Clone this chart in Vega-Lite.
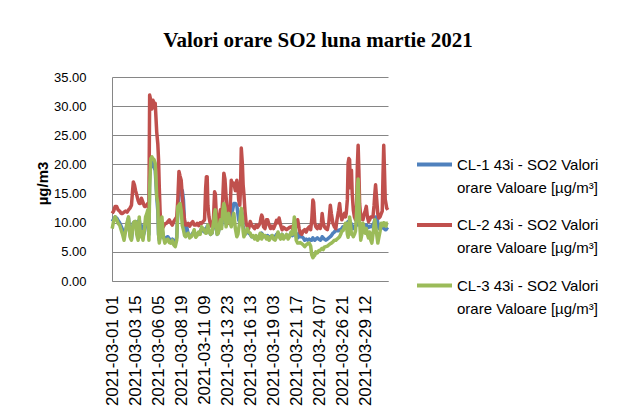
{
"$schema": "https://vega.github.io/schema/vega-lite/v6.json",
"width": 276, "height": 204,
"autosize": {"type": "none"},
"padding": {"left": 112, "top": 77, "right": 231, "bottom": 136},
"background": "white",
"title": {"text": "Valori orare SO2 luna martie 2021", "font": "Liberation Serif", "fontSize": 21, "fontWeight": "bold", "color": "black", "anchor": "middle", "dx": 68, "offset": 3, "baseline": "alphabetic"},
"config": {"view": {"stroke": null}},
"data": {"values": [
{"h":0,"CL-1":10.2,"CL-2":11.6,"CL-3":9.0},
{"h":4,"CL-1":10.6,"CL-2":12.0,"CL-3":10.3},
{"h":8,"CL-1":11.0,"CL-2":12.8,"CL-3":11.0},
{"h":12,"CL-1":10.8,"CL-2":12.8,"CL-3":10.5},
{"h":16,"CL-1":10.4,"CL-2":12.2,"CL-3":9.9},
{"h":20,"CL-1":10.0,"CL-2":12.0,"CL-3":9.6},
{"h":24,"CL-1":9.4,"CL-2":11.6,"CL-3":8.8},
{"h":28,"CL-1":8.8,"CL-2":11.6,"CL-3":8.0},
{"h":32,"CL-1":8.0,"CL-2":11.8,"CL-3":7.0},
{"h":36,"CL-1":8.6,"CL-2":12.0,"CL-3":8.5},
{"h":40,"CL-1":9.6,"CL-2":11.8,"CL-3":10.0},
{"h":44,"CL-1":10.8,"CL-2":12.2,"CL-3":11.0},
{"h":48,"CL-1":8.0,"CL-2":12.5,"CL-3":7.6},
{"h":52,"CL-1":7.2,"CL-2":13.0,"CL-3":7.0},
{"h":55,"CL-1":9.0,"CL-2":15.5,"CL-3":9.0},
{"h":57,"CL-1":10.0,"CL-2":17.0,"CL-3":9.9},
{"h":60,"CL-1":10.0,"CL-2":16.5,"CL-3":10.2},
{"h":63,"CL-1":10.2,"CL-2":15.5,"CL-3":10.2},
{"h":66,"CL-1":9.5,"CL-2":14.8,"CL-3":8.0},
{"h":70,"CL-1":9.9,"CL-2":13.8,"CL-3":7.0},
{"h":73,"CL-1":10.5,"CL-2":13.3,"CL-3":11.0},
{"h":76,"CL-1":9.0,"CL-2":13.3,"CL-3":7.6},
{"h":79,"CL-1":9.5,"CL-2":14.2,"CL-3":8.5},
{"h":83,"CL-1":7.6,"CL-2":13.5,"CL-3":7.0},
{"h":87,"CL-1":8.5,"CL-2":12.8,"CL-3":9.0},
{"h":90,"CL-1":10.0,"CL-2":12.8,"CL-3":11.0},
{"h":93,"CL-1":10.5,"CL-2":13.0,"CL-3":11.5},
{"h":96,"CL-1":11.2,"CL-2":13.3,"CL-3":12.2},
{"h":99,"CL-1":8.0,"CL-2":12.5,"CL-3":7.0},
{"h":101,"CL-1":18.0,"CL-2":31.9,"CL-3":16.0},
{"h":104,"CL-1":20.0,"CL-2":31.0,"CL-3":21.0},
{"h":107,"CL-1":20.5,"CL-2":29.5,"CL-3":21.3},
{"h":110,"CL-1":20.0,"CL-2":31.0,"CL-3":21.0},
{"h":113,"CL-1":19.5,"CL-2":30.5,"CL-3":20.8},
{"h":116,"CL-1":19.0,"CL-2":30.5,"CL-3":20.2},
{"h":120,"CL-1":14.5,"CL-2":25.6,"CL-3":14.5},
{"h":123,"CL-1":12.0,"CL-2":23.5,"CL-3":13.3},
{"h":125,"CL-1":8.0,"CL-2":20.8,"CL-3":8.0},
{"h":127,"CL-1":7.0,"CL-2":16.0,"CL-3":6.5},
{"h":129,"CL-1":7.5,"CL-2":12.2,"CL-3":7.5},
{"h":131,"CL-1":8.5,"CL-2":9.5,"CL-3":9.0},
{"h":134,"CL-1":9.0,"CL-2":9.0,"CL-3":11.0},
{"h":138,"CL-1":7.5,"CL-2":9.3,"CL-3":7.6},
{"h":142,"CL-1":7.2,"CL-2":9.8,"CL-3":6.5},
{"h":146,"CL-1":7.5,"CL-2":9.9,"CL-3":7.0},
{"h":150,"CL-1":7.6,"CL-2":10.2,"CL-3":7.2},
{"h":154,"CL-1":7.2,"CL-2":10.5,"CL-3":6.6},
{"h":158,"CL-1":7.0,"CL-2":10.0,"CL-3":6.5},
{"h":162,"CL-1":7.2,"CL-2":9.6,"CL-3":7.0},
{"h":166,"CL-1":6.8,"CL-2":10.2,"CL-3":6.2},
{"h":170,"CL-1":6.5,"CL-2":10.6,"CL-3":5.9},
{"h":174,"CL-1":7.5,"CL-2":11.0,"CL-3":7.0},
{"h":177,"CL-1":12.0,"CL-2":14.0,"CL-3":12.8},
{"h":180,"CL-1":14.5,"CL-2":18.8,"CL-3":13.0},
{"h":183,"CL-1":15.0,"CL-2":18.0,"CL-3":13.3},
{"h":186,"CL-1":15.6,"CL-2":17.3,"CL-3":12.0},
{"h":189,"CL-1":15.5,"CL-2":14.5,"CL-3":9.5},
{"h":192,"CL-1":14.0,"CL-2":12.2,"CL-3":8.8},
{"h":195,"CL-1":10.0,"CL-2":10.5,"CL-3":7.8},
{"h":198,"CL-1":8.5,"CL-2":9.6,"CL-3":7.6},
{"h":201,"CL-1":9.3,"CL-2":9.6,"CL-3":8.0},
{"h":205,"CL-1":8.0,"CL-2":9.9,"CL-3":8.2},
{"h":209,"CL-1":7.6,"CL-2":9.4,"CL-3":7.4},
{"h":213,"CL-1":7.8,"CL-2":9.9,"CL-3":7.6},
{"h":217,"CL-1":8.2,"CL-2":10.2,"CL-3":8.0},
{"h":221,"CL-1":8.4,"CL-2":9.6,"CL-3":8.8},
{"h":225,"CL-1":7.8,"CL-2":9.6,"CL-3":7.5},
{"h":229,"CL-1":8.0,"CL-2":9.9,"CL-3":7.8},
{"h":233,"CL-1":8.0,"CL-2":9.5,"CL-3":8.4},
{"h":237,"CL-1":8.4,"CL-2":10.0,"CL-3":8.0},
{"h":241,"CL-1":9.0,"CL-2":9.9,"CL-3":9.3},
{"h":245,"CL-1":8.6,"CL-2":10.2,"CL-3":9.0},
{"h":249,"CL-1":8.4,"CL-2":10.5,"CL-3":8.6},
{"h":252,"CL-1":9.0,"CL-2":16.0,"CL-3":8.2},
{"h":254,"CL-1":9.0,"CL-2":17.9,"CL-3":8.2},
{"h":256,"CL-1":9.4,"CL-2":17.9,"CL-3":9.0},
{"h":258,"CL-1":9.0,"CL-2":13.0,"CL-3":9.6},
{"h":261,"CL-1":8.6,"CL-2":11.0,"CL-3":8.6},
{"h":265,"CL-1":8.0,"CL-2":9.6,"CL-3":8.0},
{"h":269,"CL-1":8.2,"CL-2":9.3,"CL-3":8.2},
{"h":273,"CL-1":9.5,"CL-2":10.5,"CL-3":10.0},
{"h":276,"CL-1":10.5,"CL-2":15.3,"CL-3":11.5},
{"h":278,"CL-1":11.0,"CL-2":15.0,"CL-3":12.2},
{"h":281,"CL-1":9.0,"CL-2":11.0,"CL-3":9.0},
{"h":283,"CL-1":8.0,"CL-2":9.3,"CL-3":8.0},
{"h":286,"CL-1":8.3,"CL-2":9.8,"CL-3":8.2},
{"h":290,"CL-1":9.5,"CL-2":11.5,"CL-3":10.0},
{"h":292,"CL-1":10.0,"CL-2":12.2,"CL-3":10.5},
{"h":295,"CL-1":9.5,"CL-2":11.0,"CL-3":9.0},
{"h":298,"CL-1":11.0,"CL-2":14.0,"CL-3":12.0},
{"h":301,"CL-1":12.5,"CL-2":18.5,"CL-3":13.3},
{"h":304,"CL-1":12.0,"CL-2":17.5,"CL-3":12.5},
{"h":307,"CL-1":9.8,"CL-2":14.5,"CL-3":9.3},
{"h":311,"CL-1":10.0,"CL-2":11.0,"CL-3":10.5},
{"h":314,"CL-1":10.5,"CL-2":9.9,"CL-3":11.6},
{"h":318,"CL-1":10.0,"CL-2":12.5,"CL-3":9.9},
{"h":321,"CL-1":11.0,"CL-2":17.3,"CL-3":9.3},
{"h":324,"CL-1":12.0,"CL-2":16.5,"CL-3":10.5},
{"h":328,"CL-1":13.3,"CL-2":16.8,"CL-3":11.6},
{"h":332,"CL-1":13.3,"CL-2":15.5,"CL-3":9.0},
{"h":336,"CL-1":13.0,"CL-2":17.3,"CL-3":7.6},
{"h":339,"CL-1":11.5,"CL-2":16.0,"CL-3":8.0},
{"h":341,"CL-1":10.5,"CL-2":13.9,"CL-3":9.0},
{"h":344,"CL-1":10.0,"CL-2":13.0,"CL-3":10.0},
{"h":346,"CL-1":11.0,"CL-2":16.0,"CL-3":11.5},
{"h":348,"CL-1":12.0,"CL-2":22.8,"CL-3":12.5},
{"h":351,"CL-1":11.5,"CL-2":20.0,"CL-3":11.0},
{"h":353,"CL-1":9.5,"CL-2":16.5,"CL-3":8.5},
{"h":355,"CL-1":8.5,"CL-2":15.0,"CL-3":7.6},
{"h":358,"CL-1":8.0,"CL-2":12.0,"CL-3":8.0},
{"h":361,"CL-1":8.4,"CL-2":10.0,"CL-3":8.6},
{"h":364,"CL-1":8.6,"CL-2":9.3,"CL-3":9.0},
{"h":368,"CL-1":8.2,"CL-2":9.0,"CL-3":8.4},
{"h":372,"CL-1":8.0,"CL-2":10.2,"CL-3":8.2},
{"h":376,"CL-1":7.6,"CL-2":9.6,"CL-3":7.6},
{"h":380,"CL-1":7.6,"CL-2":9.3,"CL-3":7.8},
{"h":384,"CL-1":7.4,"CL-2":9.0,"CL-3":7.2},
{"h":388,"CL-1":7.6,"CL-2":9.6,"CL-3":7.8},
{"h":392,"CL-1":7.2,"CL-2":9.2,"CL-3":7.0},
{"h":396,"CL-1":7.6,"CL-2":9.6,"CL-3":7.4},
{"h":399,"CL-1":8.0,"CL-2":10.0,"CL-3":8.2},
{"h":401,"CL-1":8.0,"CL-2":10.8,"CL-3":7.6},
{"h":403,"CL-1":8.2,"CL-2":11.3,"CL-3":7.2},
{"h":405,"CL-1":8.0,"CL-2":11.0,"CL-3":8.0},
{"h":408,"CL-1":7.6,"CL-2":9.3,"CL-3":7.6},
{"h":412,"CL-1":7.8,"CL-2":9.0,"CL-3":7.8},
{"h":416,"CL-1":7.6,"CL-2":10.5,"CL-3":7.2},
{"h":419,"CL-1":7.8,"CL-2":10.5,"CL-3":7.6},
{"h":423,"CL-1":7.4,"CL-2":9.6,"CL-3":7.0},
{"h":427,"CL-1":7.6,"CL-2":9.0,"CL-3":7.4},
{"h":431,"CL-1":7.8,"CL-2":9.4,"CL-3":7.8},
{"h":435,"CL-1":7.4,"CL-2":9.0,"CL-3":7.2},
{"h":439,"CL-1":7.6,"CL-2":9.6,"CL-3":7.0},
{"h":443,"CL-1":8.0,"CL-2":10.4,"CL-3":7.6},
{"h":447,"CL-1":8.2,"CL-2":10.0,"CL-3":8.4},
{"h":450,"CL-1":7.8,"CL-2":10.8,"CL-3":7.6},
{"h":454,"CL-1":7.6,"CL-2":9.6,"CL-3":7.2},
{"h":458,"CL-1":8.0,"CL-2":8.8,"CL-3":8.0},
{"h":462,"CL-1":7.4,"CL-2":9.2,"CL-3":7.2},
{"h":466,"CL-1":7.6,"CL-2":9.0,"CL-3":7.6},
{"h":470,"CL-1":7.8,"CL-2":8.8,"CL-3":8.0},
{"h":474,"CL-1":7.6,"CL-2":9.0,"CL-3":7.2},
{"h":478,"CL-1":7.8,"CL-2":9.2,"CL-3":7.6},
{"h":482,"CL-1":8.2,"CL-2":9.3,"CL-3":8.4},
{"h":486,"CL-1":7.8,"CL-2":9.0,"CL-3":8.0},
{"h":489,"CL-1":9.0,"CL-2":9.6,"CL-3":9.5},
{"h":491,"CL-1":10.0,"CL-2":9.9,"CL-3":11.0},
{"h":493,"CL-1":9.0,"CL-2":9.6,"CL-3":10.0},
{"h":496,"CL-1":7.6,"CL-2":9.3,"CL-3":7.0},
{"h":500,"CL-1":7.4,"CL-2":10.5,"CL-3":6.5},
{"h":504,"CL-1":8.2,"CL-2":9.0,"CL-3":6.5},
{"h":507,"CL-1":7.6,"CL-2":8.2,"CL-3":6.6},
{"h":511,"CL-1":7.6,"CL-2":8.0,"CL-3":6.4},
{"h":515,"CL-1":7.4,"CL-2":8.6,"CL-3":6.2},
{"h":519,"CL-1":7.0,"CL-2":8.8,"CL-3":5.9},
{"h":523,"CL-1":7.2,"CL-2":8.4,"CL-3":6.2},
{"h":527,"CL-1":7.0,"CL-2":9.0,"CL-3":6.4},
{"h":531,"CL-1":7.2,"CL-2":9.3,"CL-3":6.5},
{"h":535,"CL-1":7.0,"CL-2":8.8,"CL-3":6.0},
{"h":538,"CL-1":7.0,"CL-2":10.5,"CL-3":4.5},
{"h":541,"CL-1":7.4,"CL-2":13.9,"CL-3":4.0},
{"h":543,"CL-1":7.2,"CL-2":13.5,"CL-3":4.2},
{"h":546,"CL-1":7.0,"CL-2":10.0,"CL-3":4.4},
{"h":549,"CL-1":7.2,"CL-2":9.3,"CL-3":5.0},
{"h":553,"CL-1":7.4,"CL-2":9.0,"CL-3":4.8},
{"h":557,"CL-1":7.2,"CL-2":9.5,"CL-3":5.2},
{"h":561,"CL-1":7.0,"CL-2":9.0,"CL-3":5.3},
{"h":564,"CL-1":7.2,"CL-2":10.0,"CL-3":5.5},
{"h":566,"CL-1":7.6,"CL-2":11.6,"CL-3":5.6},
{"h":569,"CL-1":7.4,"CL-2":10.0,"CL-3":5.4},
{"h":572,"CL-1":7.2,"CL-2":9.3,"CL-3":5.8},
{"h":576,"CL-1":7.0,"CL-2":9.0,"CL-3":5.9},
{"h":580,"CL-1":7.2,"CL-2":8.8,"CL-3":6.0},
{"h":584,"CL-1":7.4,"CL-2":10.0,"CL-3":6.2},
{"h":588,"CL-1":7.6,"CL-2":13.0,"CL-3":6.4},
{"h":591,"CL-1":7.8,"CL-2":11.5,"CL-3":6.5},
{"h":595,"CL-1":8.2,"CL-2":9.9,"CL-3":6.7},
{"h":599,"CL-1":8.4,"CL-2":9.3,"CL-3":7.0},
{"h":603,"CL-1":8.8,"CL-2":9.0,"CL-3":7.0},
{"h":606,"CL-1":8.6,"CL-2":10.5,"CL-3":7.2},
{"h":610,"CL-1":8.6,"CL-2":12.0,"CL-3":7.4},
{"h":613,"CL-1":8.8,"CL-2":13.3,"CL-3":7.6},
{"h":616,"CL-1":8.8,"CL-2":11.5,"CL-3":8.0},
{"h":619,"CL-1":9.0,"CL-2":10.5,"CL-3":8.6},
{"h":622,"CL-1":9.3,"CL-2":11.0,"CL-3":8.6},
{"h":626,"CL-1":9.3,"CL-2":11.6,"CL-3":9.3},
{"h":629,"CL-1":9.4,"CL-2":11.0,"CL-3":9.9},
{"h":631,"CL-1":9.5,"CL-2":11.6,"CL-3":9.9},
{"h":634,"CL-1":10.0,"CL-2":14.0,"CL-3":8.0},
{"h":636,"CL-1":10.2,"CL-2":20.2,"CL-3":7.5},
{"h":638,"CL-1":10.0,"CL-2":21.0,"CL-3":9.0},
{"h":640,"CL-1":10.4,"CL-2":20.8,"CL-3":11.0},
{"h":642,"CL-1":10.0,"CL-2":16.0,"CL-3":10.0},
{"h":645,"CL-1":9.8,"CL-2":19.0,"CL-3":8.0},
{"h":647,"CL-1":9.5,"CL-2":15.0,"CL-3":8.0},
{"h":650,"CL-1":9.0,"CL-2":12.2,"CL-3":7.6},
{"h":653,"CL-1":9.2,"CL-2":11.0,"CL-3":8.0},
{"h":656,"CL-1":9.4,"CL-2":10.5,"CL-3":8.6},
{"h":659,"CL-1":9.6,"CL-2":13.0,"CL-3":12.0},
{"h":661,"CL-1":9.8,"CL-2":20.0,"CL-3":16.0},
{"h":663,"CL-1":10.0,"CL-2":23.3,"CL-3":17.5},
{"h":665,"CL-1":9.8,"CL-2":19.0,"CL-3":14.0},
{"h":667,"CL-1":9.6,"CL-2":13.3,"CL-3":10.0},
{"h":670,"CL-1":9.4,"CL-2":11.0,"CL-3":7.0},
{"h":673,"CL-1":9.2,"CL-2":10.6,"CL-3":8.0},
{"h":676,"CL-1":9.0,"CL-2":10.5,"CL-3":9.9},
{"h":679,"CL-1":9.3,"CL-2":11.5,"CL-3":9.0},
{"h":682,"CL-1":9.4,"CL-2":12.0,"CL-3":8.2},
{"h":685,"CL-1":9.6,"CL-2":12.8,"CL-3":9.0},
{"h":688,"CL-1":9.4,"CL-2":11.0,"CL-3":8.0},
{"h":691,"CL-1":9.2,"CL-2":10.2,"CL-3":7.4},
{"h":694,"CL-1":9.4,"CL-2":10.5,"CL-3":8.4},
{"h":697,"CL-1":9.3,"CL-2":11.0,"CL-3":7.0},
{"h":700,"CL-1":9.5,"CL-2":11.0,"CL-3":6.5},
{"h":703,"CL-1":9.6,"CL-2":11.0,"CL-3":8.0},
{"h":706,"CL-1":10.0,"CL-2":13.0,"CL-3":9.6},
{"h":708,"CL-1":10.5,"CL-2":15.0,"CL-3":10.5},
{"h":710,"CL-1":11.0,"CL-2":16.5,"CL-3":9.5},
{"h":713,"CL-1":11.0,"CL-2":14.0,"CL-3":8.0},
{"h":716,"CL-1":10.0,"CL-2":11.5,"CL-3":6.5},
{"h":719,"CL-1":9.0,"CL-2":10.8,"CL-3":7.5},
{"h":722,"CL-1":9.4,"CL-2":11.0,"CL-3":8.5},
{"h":725,"CL-1":9.6,"CL-2":11.5,"CL-3":9.9},
{"h":728,"CL-1":9.2,"CL-2":12.0,"CL-3":9.5},
{"h":730,"CL-1":9.4,"CL-2":18.0,"CL-3":9.5},
{"h":732,"CL-1":9.0,"CL-2":23.3,"CL-3":10.0},
{"h":734,"CL-1":9.0,"CL-2":19.0,"CL-3":9.8},
{"h":736,"CL-1":8.8,"CL-2":14.0,"CL-3":9.9},
{"h":738,"CL-1":8.8,"CL-2":13.3,"CL-3":9.4},
{"h":740,"CL-1":9.0,"CL-2":12.5,"CL-3":9.9},
{"h":743,"CL-1":9.2,"CL-2":12.2,"CL-3":9.9}
]},
"transform": [{"fold": ["CL-1", "CL-2", "CL-3"], "as": ["s", "v"]}],
"mark": {"type": "line", "strokeWidth": 3.5, "strokeJoin": "round"},
"encoding": {
  "x": {"field": "h", "type": "quantitative",
    "scale": {"domain": [-0.5, 743.5], "nice": false, "zero": false},
    "axis": {"title": null, "grid": false, "ticks": false, "values": [0,62,124,186,248,310,372,434,496,558,620,682],
      "labelExpr": "['2021-03-01 01','2021-03-03 15','2021-03-06 05','2021-03-08 19','2021-03-11 09','2021-03-13 23','2021-03-16 13','2021-03-19 03','2021-03-21 17','2021-03-24 07','2021-03-26 21','2021-03-29 12'][round(datum.value/62)]",
      "labelAngle": -90, "labelAlign": "right", "labelBaseline": "middle", "labelFont": "Liberation Sans", "labelFontSize": 17, "labelColor": "black", "labelPadding": 14, "labelOverlap": false, "labelFlush": false, "labelBound": false, "domainColor": "#868686", "domainWidth": 1}},
  "y": {"field": "v", "type": "quantitative",
    "scale": {"domain": [0, 35], "nice": false},
    "axis": {"title": "µg/m3", "titleFont": "Liberation Sans", "titleFontSize": 15, "titleFontWeight": "bold", "titleColor": "black", "titleAngle": -90, "titleX": -70, "titleY": 106, "titleAlign": "center", "titleBaseline": "middle",
      "values": [0,5,10,15,20,25,30,35], "format": ".2f", "ticks": false, "labelFont": "Liberation Sans", "labelFontSize": 13, "labelColor": "black", "labelPadding": 26, "grid": true, "gridColor": "#868686", "gridWidth": 1, "domainColor": "#868686", "domainWidth": 1}},
  "color": {"field": "s", "type": "nominal",
    "scale": {"domain": ["CL-1", "CL-2", "CL-3"], "range": ["#4F81BD", "#C0504D", "#9BBB59"]},
    "legend": {"title": null, "orient": "none", "legendX": 303, "legendY": 68, "padding": 0, "symbolType": "stroke", "symbolSize": 1225, "symbolStrokeWidth": 4,
      "labelFont": "Liberation Sans", "labelFontSize": 15, "labelColor": "black", "labelOffset": 3, "labelLimit": 0, "rowPadding": 9.5,
      "labelExpr": "[datum.label + ' 43i - SO2 Valori', 'orare Valoare [µg/m³]']",
      "encoding": {"labels": {"lineHeight": {"value": 23}}}}}
}
}
